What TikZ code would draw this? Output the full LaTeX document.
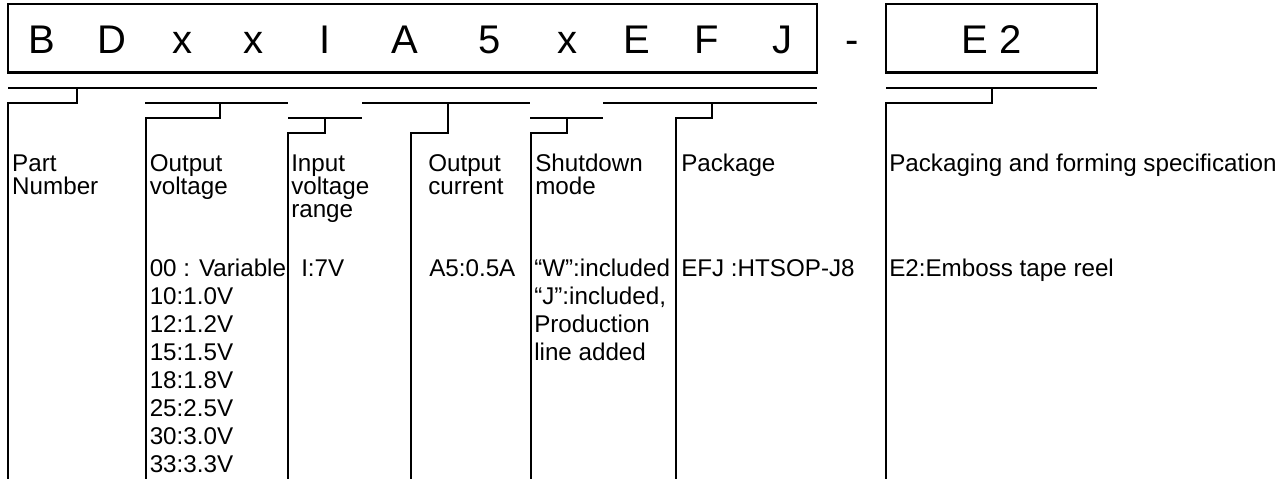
\documentclass[tikz,border=0pt]{standalone}
\usepackage{fontspec}
\setmainfont{Liberation Sans}
\begin{document}
\begin{tikzpicture}[x=1pt,y=-1pt,line width=2.5pt,line join=miter]
\tikzset{
  big/.style={font=\fontsize{40}{48}\selectfont,inner sep=0pt,anchor=base},
  txt/.style={font=\fontsize{24.2}{28}\selectfont,inner sep=0pt,anchor=base west},
}
\def\hb{171}\def\hs{23}
\def\vb{276}\def\vs{28}
\useasboundingbox (0,0) rectangle (1282,479);
% code boxes
\draw (8,4.2) rectangle (817,72.3);
\draw (886,4.2) rectangle (1097,72.3);
\foreach \c/\x [count=\i] in {B/42,D/112,x/182,x/253,I/325,A/405,5/490,x/567,E/637,F/707,J/782}
  \node[big] (L\i) at (\x,53) {\c};
\node[big] (dash) at (852,53) {-};
\node[big] (code) at (991.5,53) {E 2};
% level lines
\draw (8,88) -- (817,88);
\draw (886,88) -- (1097,88);
% Part number
\draw (77,88) -- (77,103) -- (8,103) -- (8,479);
% Output voltage
\draw (145,103) -- (288,103);
\draw (220,103) -- (220,118) -- (146,118) -- (146,479);
% Input voltage range
\draw (288,118) -- (362,118);
\draw (325,118) -- (325,133) -- (288,133) -- (288,479);
% Output current
\draw (362,103) -- (530,103);
\draw (448,103) -- (448,133) -- (411,133) -- (411,479);
% Shutdown mode
\draw (530,118) -- (603,118);
\draw (567,118) -- (567,133) -- (531,133) -- (531,479);
% Package
\draw (603,103) -- (817,103);
\draw (712,103) -- (712,118) -- (676,118) -- (676,479);
% Packaging
\draw (992,88) -- (992,103) -- (886,103) -- (886,479);
% headers
\foreach \t [count=\i from 0] in {Part,Number}
  \node[txt] (pn\i) at (11,{\hb+\i*\hs}) {\t};
\foreach \t [count=\i from 0] in {Output,voltage}
  \node[txt] (ov\i) at (148.5,{\hb+\i*\hs}) {\t};
\foreach \t [count=\i from 0] in {Input,voltage,range}
  \node[txt] (iv\i) at (290,{\hb+\i*\hs}) {\t};
\foreach \t [count=\i from 0] in {Output,current}
  \node[txt] (oc\i) at (427,{\hb+\i*\hs}) {\t};
\foreach \t [count=\i from 0] in {Shutdown,mode}
  \node[txt] (sd\i) at (534,{\hb+\i*\hs}) {\t};
\node[txt] (pk0) at (680,\hb) {Package};
\node[txt] (pf0) at (888,\hb) {Packaging and forming specification};
% values
\foreach \t [count=\i from 0] in {00 : Variable,10:1.0V,12:1.2V,15:1.5V,18:1.8V,25:2.5V,30:3.0V,33:3.3V}
  \node[txt] (ovv\i) at (148.5,{\vb+\i*\vs}) {\t};
\node[txt] (ivv) at (300,\vb) {I:7V};
\node[txt] (ocv) at (428,\vb) {A5:0.5A};
\foreach \t [count=\i from 0] in {“W”:included,{“J”:included,},Production,line added}
  \node[txt] (sdv\i) at (533,{\vb+\i*\vs}) {\t};
\node[txt] (pkv) at (680,\vb) {EFJ :HTSOP-J8};
\node[txt] (pfv) at (888,\vb) {E2:Emboss tape reel};
\end{tikzpicture}
\end{document}
